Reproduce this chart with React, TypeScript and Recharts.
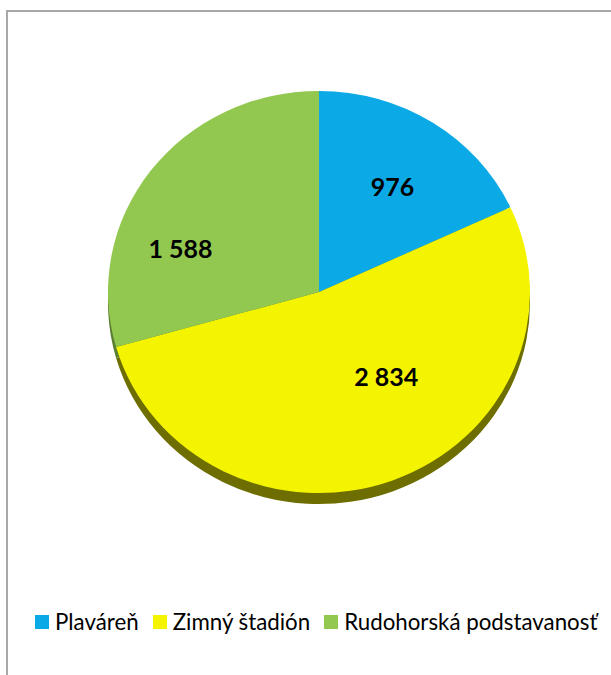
import { PieChart, Pie, Cell } from "recharts";

const categories = ["Plaváreň", "Zimný štadión", "Rudohorská podstavanosť"];
const values = [976, 2834, 1588];
const valueLabels = ["976", "2 834", "1 588"];

const topColors = ["#0BA9E6", "#F4F400", "#92C850"];
const sideColors = ["#0A6C94", "#6E6E00", "#5B7F32"];

// Excel best-fit label spots: radius share + angle shift from the slice middle
const labelSpots = [
  { r: 0.63, shift: -1 },
  { r: 0.53, shift: 16.5 },
  { r: 0.69, shift: 19 },
];

const data = categories.map((name, i) => ({ name, value: values[i], label: valueLabels[i] }));

const RAD = Math.PI / 180;
const CX = 319;
const CY = 292;
const R = 211;
const SQUASH = 0.953;

const renderLabel = (props: any) => {
  const { cx, cy, midAngle, outerRadius, index } = props;
  const spot = labelSpots[index];
  const a = (midAngle + spot.shift) * RAD;
  const r = outerRadius * spot.r;
  const x = cx + r * Math.cos(a);
  const y = cy - r * Math.sin(a);
  return (
    <text
      x={x}
      y={y}
      textAnchor="middle"
      dominantBaseline="central"
      fill="#000"
      style={{ fontFamily: "Lato, sans-serif", fontWeight: 700, fontSize: 25 }}
    >
      {data[index].label}
    </text>
  );
};

export default function App() {
  return (
    <div
      style={{
        position: "absolute",
        left: 0,
        top: 0,
        width: 611,
        height: 675,
        overflow: "hidden",
        background: "#fff",
        fontFamily: "Lato, sans-serif",
      }}
    >
      <div
        style={{
          position: "absolute",
          left: 6,
          top: 10,
          width: 640,
          height: 700,
          borderTop: "2px solid #a8a8a8",
          borderLeft: "2px solid #a8a8a8",
        }}
      />
      <div
        style={{
          position: "absolute",
          left: 0,
          top: 0,
          transform: `scaleY(${SQUASH})`,
          transformOrigin: `${CX}px ${CY}px`,
        }}
      >
        <PieChart width={611} height={600} margin={{ top: 0, right: 0, bottom: 0, left: 0 }}>
          <Pie
            data={data}
            dataKey="value"
            cx={CX}
            cy={CY + 11 / SQUASH}
            outerRadius={R}
            startAngle={90}
            endAngle={-270}
            stroke="none"
            isAnimationActive={false}
          >
            {data.map((d, i) => (
              <Cell key={d.name} fill={sideColors[i]} />
            ))}
          </Pie>
          <Pie
            data={data}
            dataKey="value"
            cx={CX}
            cy={CY}
            outerRadius={R}
            startAngle={90}
            endAngle={-270}
            stroke="none"
            label={renderLabel}
            labelLine={false}
            isAnimationActive={false}
          >
            {data.map((d, i) => (
              <Cell key={d.name} fill={topColors[i]} />
            ))}
          </Pie>
        </PieChart>
      </div>
      <div
        style={{
          position: "absolute",
          left: 35,
          top: 608,
          display: "flex",
          alignItems: "center",
          fontSize: 22.3,
          color: "#000",
          whiteSpace: "nowrap",
        }}
      >
        {categories.map((c, i) => (
          <div key={c} style={{ display: "flex", alignItems: "center", marginRight: 14 }}>
            <div style={{ width: 14, height: 14, background: topColors[i], marginRight: 6 }} />
            <span>{c}</span>
          </div>
        ))}
      </div>
    </div>
  );
}
